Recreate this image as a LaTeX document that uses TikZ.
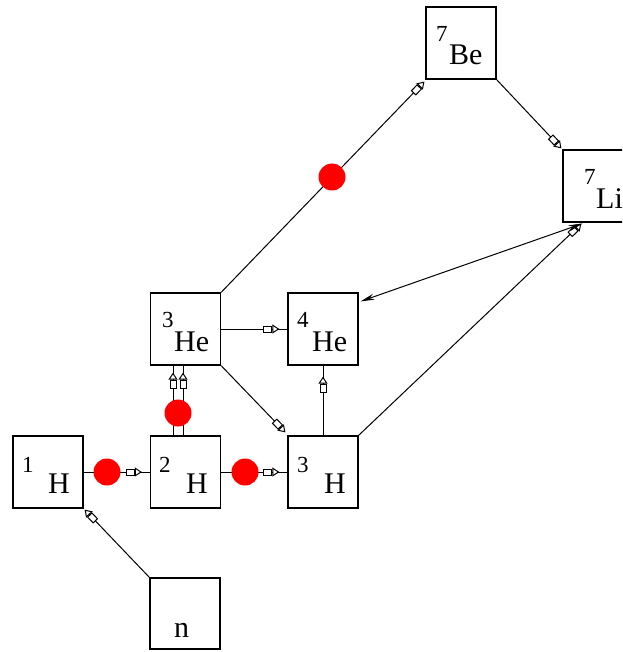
\documentclass[tikz,border=0pt]{standalone}
\usepackage{fontspec}
\setmainfont{Liberation Serif}
\usetikzlibrary{arrows.meta,decorations.markings}
\tikzset{
  box/.style={draw, line width=1.2pt, minimum width=70pt, minimum height=72pt, inner sep=0pt},
  conn/.style={line width=1pt},
  hol/.tip={Rectangle[fill=white,length=9pt,width=7pt] Triangle[fill=white,length=7pt,width=9pt]},
  holarrow/.style={conn, -{hol}},
  midarr/.style={conn, postaction={decorate}, decoration={markings, mark=at position -#1 with {\arrow{hol}}}},
  dot/.style={circle, fill=red, draw=none, minimum size=27pt, inner sep=0pt},
  digit/.style={anchor=base west, inner sep=0pt, font=\fontsize{23}{23}\selectfont},
  sym/.style={anchor=base west, inner sep=0pt, font=\fontsize{30}{30}\selectfont},
}
\begin{document}
\begin{tikzpicture}[x=1pt,y=-1pt]
\useasboundingbox (0,0) rectangle (622,652);
\clip (0,0) rectangle (622,652);
\fill[white] (0,0) rectangle (622,652);
% boxes
\node[box] (h1) at (48,472) {};
\node[box] (h2) at (185.5,472) {};
\node[box] (h3) at (323,472) {};
\node[box] (he3) at (185.5,329) {};
\node[box] (he4) at (323,329) {};
\node[box] (be7) at (461,43) {};
\node[box] (li7) at (598,186) {};
\node[box, minimum height=71pt] (nn) at (185,613.5) {};
% labels
\node[digit] (h1d) at (22,472) {1};
\node[sym] (h1s) at (48,493) {H};
\node[digit] (h2d) at (159,472) {2};
\node[sym] (h2s) at (186,493) {H};
\node[digit] (h3d) at (297,472) {3};
\node[sym] (h3s) at (324,493) {H};
\node[digit] (he3d) at (162,327) {3};
\node[sym] (he3s) at (174,351) {He};
\node[digit] (he4d) at (297,327) {4};
\node[sym] (he4s) at (312,351) {He};
\node[digit] (be7d) at (436,42) {7};
\node[sym] (be7s) at (449,65) {Be};
\node[digit] (li7d) at (584,185) {7};
\node[sym] (li7s) at (596,208) {Li};
\node[sym] (nns) at (174,637) {n};
% connectors
\draw[midarr=8pt] (h1.east) -- (h2.west);
\draw[midarr=8pt] (h2.east) -- (h3.west);
\draw[midarr=7pt] ([xshift=-12.5pt]h2.north) -- ([xshift=-12.5pt]he3.south);
\draw[midarr=7pt] ([xshift=-2.5pt]h2.north) -- ([xshift=-2.5pt]he3.south);
\draw[midarr=8pt] (he3.east) -- (he4.west);
\draw[midarr=11pt] (h3.north) -- (he4.south);
\draw[holarrow] (he3.south east) -- ([shift={(-2pt,3pt)}]h3.north west);
\draw[holarrow] (he3.north east) -- ([shift={(-1pt,-2pt)}]be7.south west);
\draw[holarrow] (be7.south east) -- ([shift={(-1pt,1pt)}]li7.north west);
\draw[holarrow] (nn.north west) -- ([shift={(1pt,-1pt)}]h1.south east);
\draw[holarrow] (h3.north east) -- ([shift={(19pt,-1pt)}]li7.south west);
\coordinate (he4r) at ([shift={(2pt,-9pt)}]he4.north east);
\coordinate (li7b) at ([shift={(20pt,-1pt)}]li7.south west);
\draw[conn, {Stealth[length=14pt,width=6pt]}-{Stealth[length=14pt,width=6pt]}] (he4r) -- (li7b);
% red dots
\node[dot] (d1) at (107,472) {};
\node[dot] (d2) at (245,472) {};
\node[dot] (d3) at (178,413) {};
\node[dot] (d4) at (332,177) {};
\end{tikzpicture}
\end{document}
